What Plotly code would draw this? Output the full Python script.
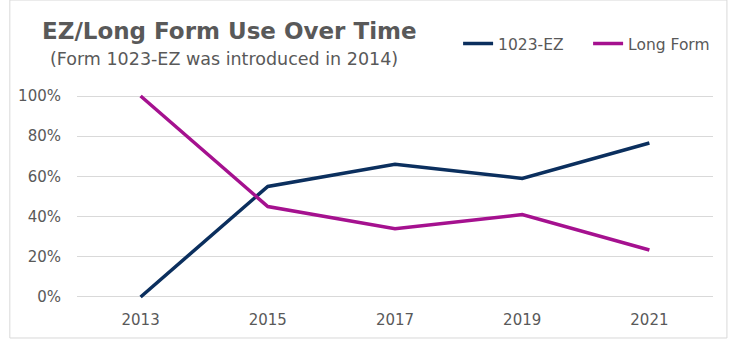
import plotly.graph_objects as go

years = ["2013", "2015", "2017", "2019", "2021"]
ez_share = [0.0, 0.55, 0.66, 0.59, 0.766]
long_share = [1.0, 0.45, 0.34, 0.41, 0.234]
y_ticks = [0, 0.2, 0.4, 0.6, 0.8, 1.0]
y_tick_labels = ["0%", "20%", "40%", "60%", "80%", "100%"]

FONT = "DejaVu Sans"
GREY = "#595959"

fig = go.Figure()
fig.add_trace(go.Scatter(x=years, y=ez_share, mode="lines", name="1023-EZ",
                         line=dict(color="#0B2F5E", width=3.5)))
fig.add_trace(go.Scatter(x=years, y=long_share, mode="lines", name="Long Form",
                         line=dict(color="#A5118F", width=3.5)))

fig.update_layout(
    width=729, height=340,
    margin=dict(l=77, r=16, t=92, b=39, autoexpand=False),
    paper_bgcolor="white", plot_bgcolor="white",
    font=dict(family=FONT, color=GREY, size=15),
    showlegend=True,
    legend=dict(orientation="h", x=1.008, xanchor="right", y=1.23, yref="paper",
                yanchor="middle", font=dict(size=15.5, color=GREY, family=FONT),
                bgcolor="rgba(0,0,0,0)", traceorder="normal",
                entrywidth=85, entrywidthmode="pixels"),
    xaxis=dict(type="category", range=[-0.5, 4.5], showgrid=False, zeroline=False,
               showline=False, ticks="", ticklabelstandoff=8,
               tickfont=dict(size=15, color=GREY)),
    yaxis=dict(range=[-0.02, 1.02], tickvals=y_ticks, ticktext=y_tick_labels,
               showgrid=True, gridcolor="#D9D9D9", gridwidth=1, zeroline=False,
               showline=False, ticks="", ticklabelstandoff=15,
               tickfont=dict(size=15, color=GREY)),
    annotations=[
        dict(text="<b>EZ/Long Form Use Over Time</b>", xref="paper", yref="paper",
             x=-0.058, y=1.0, xanchor="left", yanchor="bottom", yshift=46,
             showarrow=False, font=dict(size=23, color=GREY, family=FONT)),
        dict(text="(Form 1023-EZ was introduced in 2014)", xref="paper", yref="paper",
             x=-0.046, y=1.0, xanchor="left", yanchor="bottom", yshift=21,
             showarrow=False, font=dict(size=17.5, color=GREY, family=FONT)),
    ],
    shapes=[dict(type="rect", xref="paper", yref="paper", x0=-0.1056, x1=1.0219,
                 y0=-0.177, y1=1.44, line=dict(color="#D9D9D9", width=1))],
)

fig.write_html("out.html")
